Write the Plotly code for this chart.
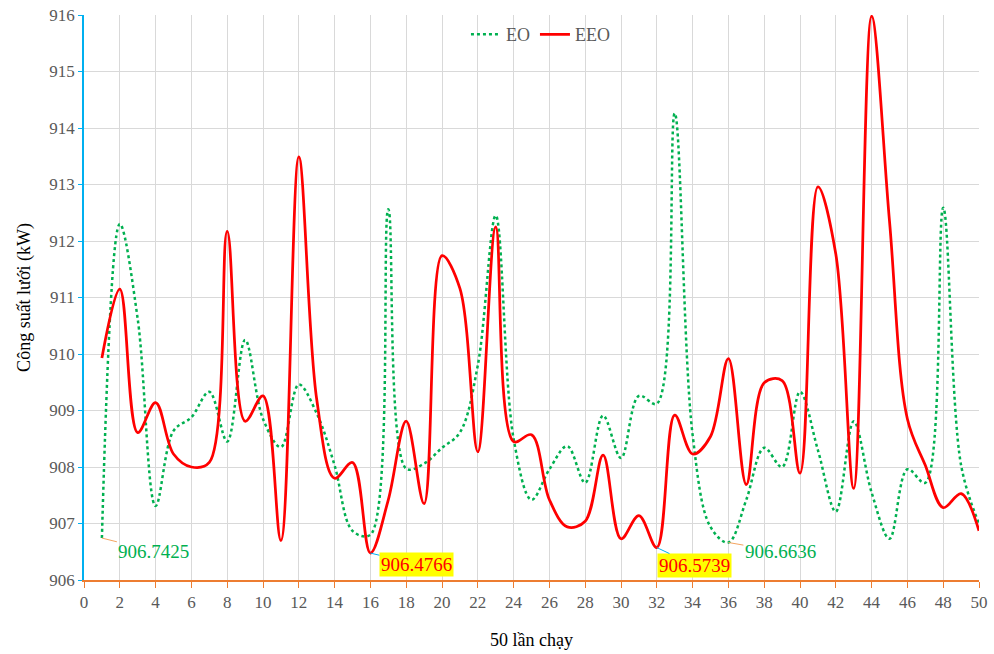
import plotly.graph_objects as go

runs = list(range(1, 51))
eo = [906.7425, 912.30, 910.62, 907.31, 908.64, 908.88, 909.33, 908.45, 910.25, 908.85,
      908.35, 909.46, 908.95, 908.03, 906.87, 906.80, 912.56, 907.97, 908.06, 908.34,
      908.61, 909.80, 912.45, 908.50, 907.42, 907.96, 908.37, 907.72, 908.91, 908.16,
      909.26, 909.12, 914.26, 908.57, 906.94, 906.6636, 907.42, 908.34, 908.00, 909.33,
      908.30, 907.21, 908.81, 907.55, 906.73, 907.96, 907.72, 912.59, 908.03, 907.00]
eeo = [909.93, 911.15, 908.61, 909.14, 908.23, 908.00, 908.08, 912.17, 908.81, 909.26,
       906.70, 913.49, 909.20, 907.80, 908.08, 906.4766, 907.42, 908.81, 907.35, 911.74,
       911.16, 908.27, 912.25, 908.45, 908.57, 907.42, 906.94, 907.04, 908.21, 906.73,
       907.14, 906.5739, 908.92, 908.23, 908.54, 909.92, 907.69, 909.49, 909.53, 907.89,
       912.96, 911.77, 907.62, 915.98, 912.35, 908.85, 908.03, 907.28, 907.53, 906.87]

font_family = "Liberation Serif, Times New Roman, serif"
fig = go.Figure()
fig.add_trace(go.Scatter(x=runs, y=eo, name="EO", mode="lines",
                         line=dict(color="#00B050", width=2.5, dash="dot", shape="spline", smoothing=1)))
fig.add_trace(go.Scatter(x=runs, y=eeo, name="EEO", mode="lines",
                         line=dict(color="#FF0000", width=2.75, shape="spline", smoothing=1)))

ann = [
    (1, 906.7425, "906.7425", "#00B050", None, "#F4A460", 52, 13),
    (16, 906.4766, "906.4766", "#FF0000", "#FFFF00", "#00B0F0", 46, 11),
    (32, 906.5739, "906.5739", "#FF0000", "#FFFF00", "#00B0F0", 38, 18),
    (36, 906.6636, "906.6636", "#00B050", None, "#F4A460", 52, 9),
]
for x, y, t, fc, bg, ac, ax, ay in ann:
    fig.add_annotation(x=x, y=y, text=t, showarrow=True, arrowhead=0, arrowwidth=1,
                       arrowcolor=ac, ax=ax, ay=ay, axref="pixel", ayref="pixel",
                       font=dict(family=font_family, size=19, color=fc),
                       bgcolor=bg if bg else "rgba(0,0,0,0)", borderpad=1)

tickfont = dict(family=font_family, size=17, color="#595959")
fig.update_layout(
    width=994, height=654,
    margin=dict(l=84, r=15, t=15, b=74, autoexpand=False),
    paper_bgcolor="white", plot_bgcolor="white",
    font=dict(family=font_family, size=17, color="#595959"),
    showlegend=True,
    legend=dict(orientation="h", x=0.51, xanchor="center", y=0.998, yanchor="top",
                font=dict(family=font_family, size=18, color="#595959"),
                bgcolor="rgba(255,255,255,0)", itemwidth=30, tracegroupgap=0),
    xaxis=dict(range=[0, 50], dtick=2, tick0=0, showgrid=True, gridcolor="#D9D9D9", gridwidth=1,
               showline=True, linecolor="#ED7D31", linewidth=1.5, ticks="outside", tickcolor="#ED7D31",
               ticklen=6, zeroline=False, automargin=False, tickfont=tickfont,
               ticklabeloverflow="allow",
               title=dict(text="50 lần chạy", font=dict(family=font_family, size=18, color="#000000"), standoff=22)),
    yaxis=dict(range=[906, 916], dtick=1, showgrid=True, gridcolor="#D9D9D9", gridwidth=1,
               showline=True, linecolor="#00B0F0", linewidth=1.5, ticks="outside", tickcolor="#00B0F0",
               ticklen=4, zeroline=False, automargin=False, tickfont=tickfont,
               ticklabeloverflow="allow",
               title=dict(text="Công suất lưới (kW)", font=dict(family=font_family, size=18, color="#000000"), standoff=14)),
)
fig.write_html("out.html", config={"displayModeBar": False},
               post_script="document.body.style.margin='0px';document.body.style.overflow='hidden';")
